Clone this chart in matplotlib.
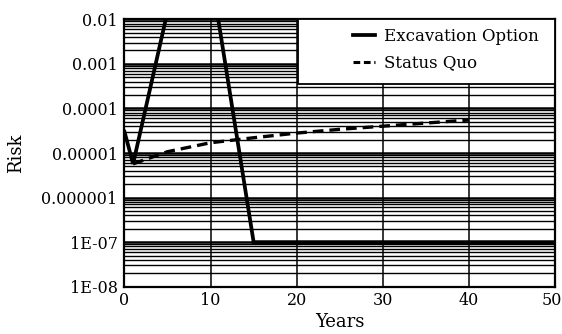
import matplotlib
matplotlib.use("Agg")
import matplotlib.pyplot as plt
from matplotlib.patches import Rectangle
from matplotlib.lines import Line2D
from matplotlib.transforms import ScaledTranslation
import numpy as np

# Data
exc_years = [0, 1, 5, 10, 15, 20, 30, 40, 50]
exc_risk = [3e-5, 5.7e-6, 1.5e-2, 1.2e-1, 1e-7, 1e-7, 1e-7, 1e-7, 1e-7]
sq_years = [1, 5, 10, 15, 20, 25, 30, 35, 40]
sq_risk = [5.7e-6, 1.07e-5, 1.7e-5, 2.2e-5, 2.8e-5, 3.4e-5, 4.0e-5, 4.7e-5, 5.5e-5]
ytick_vals = [1e-2, 1e-3, 1e-4, 1e-5, 1e-6, 1e-7, 1e-8]
ytick_labels = ["0.01", "0.001", "0.0001", "0.00001", "0.000001", "1E-07", "1E-08"]
xtick_vals = [0, 10, 20, 30, 40, 50]

plt.rcParams['font.family'] = ['DejaVu Serif']

fig = plt.figure(figsize=(5.62, 3.34), dpi=100)
ax = fig.add_axes([0.2215, 0.1416, 0.766, 0.8006])

ax.set_yscale('log')
ax.set_xlim(0, 50)
ax.set_ylim(1e-8, 1e-2)

# grid
ax.yaxis.set_minor_locator(matplotlib.ticker.LogLocator(base=10, subs=np.arange(2, 10)))
ax.grid(True, which='major', axis='y', color='black', linewidth=1.8)
ax.grid(True, which='minor', axis='y', color='black', linewidth=1.0)
ax.grid(True, which='major', axis='x', color='black', linewidth=1.1)
ax.set_axisbelow(True)

ax.plot(exc_years, exc_risk, color='black', linewidth=2.7, solid_joinstyle='miter', zorder=3)
ax.plot(sq_years, sq_risk, color='black', linewidth=2.4, linestyle=(0, (3.2, 1.8)), zorder=3)

ax.set_yticks(ytick_vals)
ax.set_yticklabels(ytick_labels)
ax.set_xticks(xtick_vals)
ax.tick_params(axis='both', which='both', length=0, labelsize=11.5, colors='black')
ax.tick_params(axis='y', pad=5)
ax.tick_params(axis='x', pad=4)
ax.yaxis.set_minor_formatter(matplotlib.ticker.NullFormatter())

# shift last x label slightly left so it stays inside the figure
last = ax.get_xticklabels()[-1]
last.set_transform(last.get_transform() + ScaledTranslation(-3/100, 0, fig.dpi_scale_trans))

for s in ax.spines.values():
    s.set_linewidth(1.6)
    s.set_color('black')

ax.set_xlabel('Years', fontsize=13, labelpad=3)
ax.set_ylabel('Risk', fontsize=13, labelpad=12)

# legend box
rect = Rectangle((0.403, 0.757), 0.597, 0.243, transform=ax.transAxes,
                 facecolor='white', edgecolor='black', linewidth=1.3, zorder=5)
ax.add_patch(rect)
handles = [Line2D([], [], color='black', linewidth=2.7),
           Line2D([], [], color='black', linewidth=2.2, linestyle=(0, (2.2, 1.2)))]
leg = ax.legend(handles, ['Excavation Option', 'Status Quo'], loc='upper right',
                bbox_to_anchor=(0.977, 0.994), frameon=False, fontsize=12,
                handlelength=1.35, handletextpad=0.5, labelspacing=0.6,
                borderaxespad=0.0)
leg.set_zorder(6)

fig.savefig('out.png', dpi=100)
